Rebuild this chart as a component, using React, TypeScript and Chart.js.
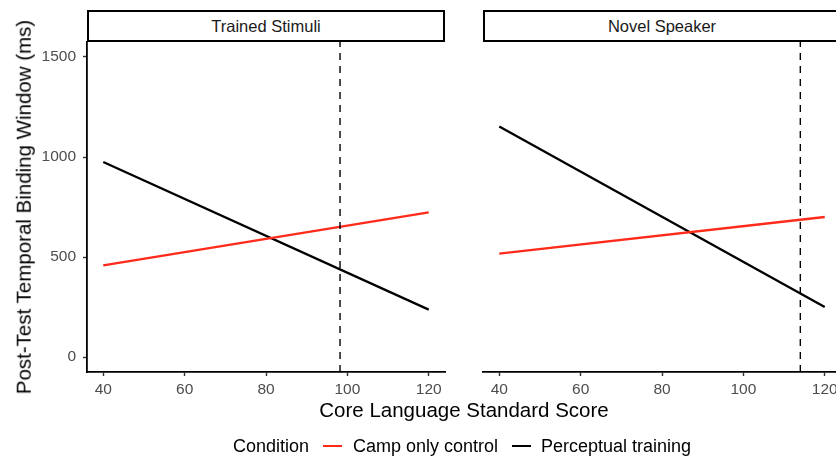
import React, { useEffect, useRef } from "react";
import { Chart, registerables } from "chart.js";

Chart.register(...registerables);

// ---- data ----
const X_TICKS = [40, 60, 80, 100, 120];
const Y_TICKS = [0, 500, 1000, 1500];
const X_MIN = 36;
const X_MAX = 124;
const Y_MIN = -75;
const Y_MAX = 1575;

const PANELS = ["Trained Stimuli", "Novel Speaker"];
const SERIES = ["Camp only control", "Perceptual training"];
const SCORE_ENDS = [40, 120];
const CAMP_TRAINED = [458, 723];
const PERC_TRAINED = [975, 237];
const CAMP_NOVEL = [517, 700];
const PERC_NOVEL = [1153, 250];
const CUTOFFS = [98.2, 114.0];

const X_TITLE = "Core Language Standard Score";
const Y_TITLE = "Post-Test Temporal Binding Window (ms)";
const LEGEND_TITLE = "Condition";

const RED = "#ff2a1a";
const BLACK = "#000000";
const FONT = "'Liberation Sans', Arial, Helvetica, sans-serif";

const PANEL_DATA = [
  { camp: CAMP_TRAINED, perc: PERC_TRAINED, cutoff: CUTOFFS[0] },
  { camp: CAMP_NOVEL, perc: PERC_NOVEL, cutoff: CUTOFFS[1] },
];

type PanelProps = {
  index: number;
  left: number;
  width: number;
  padLeft: number;
  padRight: number;
  showY: boolean;
};

function Panel({ index, left, width, padLeft, padRight, showY }: PanelProps) {
  const ref = useRef<HTMLCanvasElement | null>(null);
  useEffect(() => {
    if (!ref.current) return;
    const d = PANEL_DATA[index];
    const toPts = (ys: number[]) => SCORE_ENDS.map((x, i) => ({ x, y: ys[i] }));
    const chart = new Chart(ref.current, {
      type: "line",
      data: {
        datasets: [
          {
            label: "cutoff",
            data: [
              { x: d.cutoff, y: Y_MIN },
              { x: d.cutoff, y: Y_MAX },
            ],
            borderColor: BLACK,
            borderWidth: 1.4,
            borderDash: [7, 6],
            pointRadius: 0,
            fill: false,
          },
          {
            label: SERIES[0],
            data: toPts(d.camp),
            borderColor: RED,
            borderWidth: 2.3,
            pointRadius: 0,
            fill: false,
          },
          {
            label: SERIES[1],
            data: toPts(d.perc),
            borderColor: BLACK,
            borderWidth: 2.3,
            pointRadius: 0,
            fill: false,
          },
        ],
      },
      options: {
        responsive: false,
        animation: false,
        devicePixelRatio: 1,
        layout: { padding: { left: padLeft, right: padRight, top: 42, bottom: 56 } },
        plugins: { legend: { display: false }, tooltip: { enabled: false }, title: { display: false } },
        scales: {
          x: {
            type: "linear",
            min: X_MIN,
            max: X_MAX,
            afterBuildTicks: (s: any) => {
              s.ticks = X_TICKS.map((v) => ({ value: v }));
            },
            afterFit: (s: any) => {
              s.height = 30;
            },
            grid: {
              display: true,
              drawOnChartArea: false,
              drawTicks: true,
              tickLength: 4,
              tickColor: "#333333",
              tickWidth: 1.4,
            },
            border: { display: true, color: BLACK, width: 1.8 },
            ticks: {
              color: "#4d4d4d",
              font: { family: FONT, size: 15.5 },
              padding: 4,
              maxRotation: 0,
              autoSkip: false,
              callback: (v: any) => String(v),
            },
          },
          y: {
            type: "linear",
            display: showY,
            min: Y_MIN,
            max: Y_MAX,
            afterBuildTicks: (s: any) => {
              s.ticks = Y_TICKS.map((v) => ({ value: v }));
            },
            afterFit: (s: any) => {
              s.width = showY ? 87 : 0;
            },
            grid: {
              display: true,
              drawOnChartArea: false,
              drawTicks: true,
              tickLength: 4,
              tickColor: "#333333",
              tickWidth: 1.4,
            },
            border: { display: true, color: BLACK, width: 1.8 },
            ticks: {
              color: "#4d4d4d",
              font: { family: FONT, size: 15.5 },
              padding: 7,
              autoSkip: false,
              callback: (v: any) => String(v),
            },
          },
        },
      } as any,
    });
    return () => chart.destroy();
  }, [index, padLeft, padRight, showY]);
  return (
    <canvas
      ref={ref}
      width={width}
      height={458}
      style={{ position: "absolute", left, top: 0, width, height: 458 }}
    />
  );
}

function Strip({ left, width, text }: { left: number; width: number; text: string }) {
  return (
    <div
      style={{
        position: "absolute",
        left,
        top: 10,
        width,
        height: 32,
        boxSizing: "border-box",
        border: "2px solid #000",
        background: "#fff",
        display: "flex",
        alignItems: "center",
        justifyContent: "center",
        fontFamily: FONT,
        fontSize: 16.5,
        color: "#1a1a1a",
        whiteSpace: "nowrap",
      }}
    >
      {text}
    </div>
  );
}

export default function App() {
  const txt = (extra: React.CSSProperties): React.CSSProperties => ({
    position: "absolute",
    fontFamily: FONT,
    whiteSpace: "nowrap",
    lineHeight: 1,
    ...extra,
  });
  return (
    <div
      style={{
        position: "fixed",
        left: 0,
        top: 0,
        width: 836,
        height: 458,
        overflow: "hidden",
        background: "#fff",
      }}
    >
      <Panel index={0} left={0} width={460} padLeft={0} padRight={15} showY={true} />
      <Panel index={1} left={470} width={400} padLeft={13} padRight={29} showY={false} />
      <Strip left={87} width={358} text={PANELS[0]} />
      <Strip left={483} width={358} text={PANELS[1]} />
      <div
        style={txt({
          left: 24,
          top: 207,
          fontSize: 20.5,
          color: "#000",
          transform: "translate(-50%, -50%) rotate(-90deg)",
        })}
      >
        {Y_TITLE}
      </div>
      <div
        style={txt({
          left: 464,
          top: 410,
          fontSize: 20.5,
          color: "#000",
          transform: "translate(-50%, -50%)",
        })}
      >
        {X_TITLE}
      </div>
      <div style={txt({ left: 233, top: 446, fontSize: 18, color: "#000", transform: "translateY(-50%)" })}>
        {LEGEND_TITLE}
      </div>
      <div style={{ position: "absolute", left: 323, top: 444.5, width: 19, height: 2.6, background: RED }} />
      <div style={txt({ left: 353, top: 446, fontSize: 18, color: "#000", transform: "translateY(-50%)" })}>
        {SERIES[0]}
      </div>
      <div style={{ position: "absolute", left: 512, top: 444.5, width: 19, height: 2.6, background: BLACK }} />
      <div style={txt({ left: 541, top: 446, fontSize: 18, color: "#000", transform: "translateY(-50%)" })}>
        {SERIES[1]}
      </div>
    </div>
  );
}
